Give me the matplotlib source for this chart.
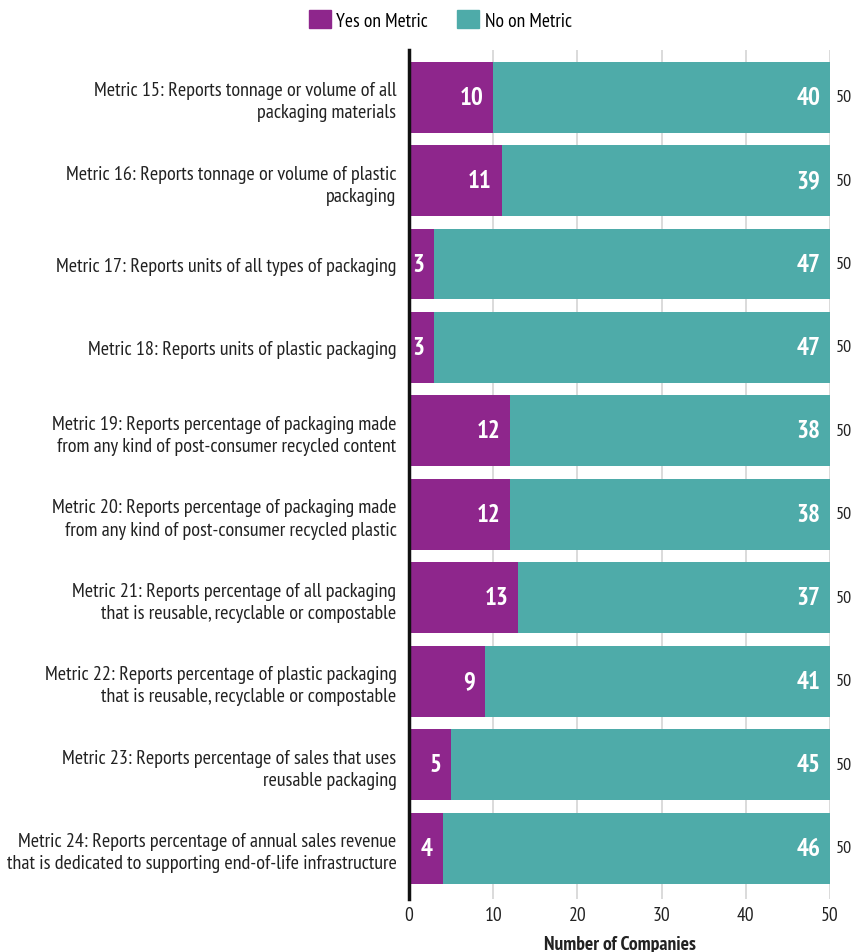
import matplotlib.pyplot as plt
from matplotlib.patches import Patch

plt.rcParams['font.family'] = ['PT Sans Narrow', 'Roboto Condensed', 'DejaVu Sans']

labels = [
    "Metric 15: Reports tonnage or volume of all\npackaging materials",
    "Metric 16: Reports tonnage or volume of plastic\npackaging",
    "Metric 17: Reports units of all types of packaging",
    "Metric 18: Reports units of plastic packaging",
    "Metric 19: Reports percentage of packaging made\nfrom any kind of post-consumer recycled content",
    "Metric 20: Reports percentage of packaging made\nfrom any kind of post-consumer recycled plastic",
    "Metric 21: Reports percentage of all packaging\nthat is reusable, recyclable or compostable",
    "Metric 22: Reports percentage of plastic packaging\nthat is reusable, recyclable or compostable",
    "Metric 23: Reports percentage of sales that uses\nreusable packaging",
    "Metric 24: Reports percentage of annual sales revenue\nthat is dedicated to supporting end-of-life infrastructure",
]
yes_vals = [10, 11, 3, 3, 12, 12, 13, 9, 5, 4]
no_vals = [40, 39, 47, 47, 38, 38, 37, 41, 45, 46]

purple = '#8E268C'
teal = '#4EABA9'

fig = plt.figure(figsize=(8.67, 9.53), dpi=100)
ax = fig.add_axes([0.4717, 0.0556, 0.4856, 0.8909])

ypos = list(range(len(labels)))
ax.barh(ypos, yes_vals, height=0.85, color=purple, zorder=2)
ax.barh(ypos, no_vals, left=yes_vals, height=0.85, color=teal, zorder=2)

for y, a, b in zip(ypos, yes_vals, no_vals):
    ax.annotate(str(a), (a, y), xytext=(-7, 0), textcoords='offset points',
                ha='right', va='center', color='white', fontsize=18,
                fontweight='bold')
    ax.annotate(str(b), (a + b, y), xytext=(-7, 0), textcoords='offset points',
                ha='right', va='center', color='white', fontsize=18,
                fontweight='bold')
    ax.annotate(str(a + b), (a + b, y), xytext=(4, 0), textcoords='offset points',
                ha='left', va='center', color='#222222', fontsize=13)

ax.set_ylim(9.61, -0.565)
ax.set_xlim(0, 50)
ax.set_yticks(ypos)
ax.set_yticklabels(labels, fontsize=14.5, color='#222222', linespacing=1.3)
ax.set_xticks([0, 10, 20, 30, 40, 50])
ax.tick_params(axis='y', length=0, pad=9)
ax.tick_params(axis='x', length=0, labelsize=14, labelcolor='#222222', pad=5)
ax.xaxis.grid(True, color='#d4d4d4', linewidth=1.2, zorder=0)
ax.set_axisbelow(True)
for s in ['top', 'right', 'bottom']:
    ax.spines[s].set_visible(False)
ax.spines['left'].set_linewidth(2.5)
ax.spines['left'].set_color('#111111')
ax.spines['left'].set_zorder(3)
ax.set_xlabel('Number of Companies', fontsize=14, fontweight='bold',
              color='#222222', labelpad=8)

handles = [Patch(color=purple, label='Yes on Metric'),
           Patch(color=teal, label='No on Metric')]
fig.legend(handles=handles, loc='upper center', bbox_to_anchor=(0.508, 1.007),
           ncol=2, frameon=False, fontsize=14, handlelength=1.1,
           handleheight=1.1, handletextpad=0.3, columnspacing=1.5)

fig.savefig('out.png', dpi=100)
